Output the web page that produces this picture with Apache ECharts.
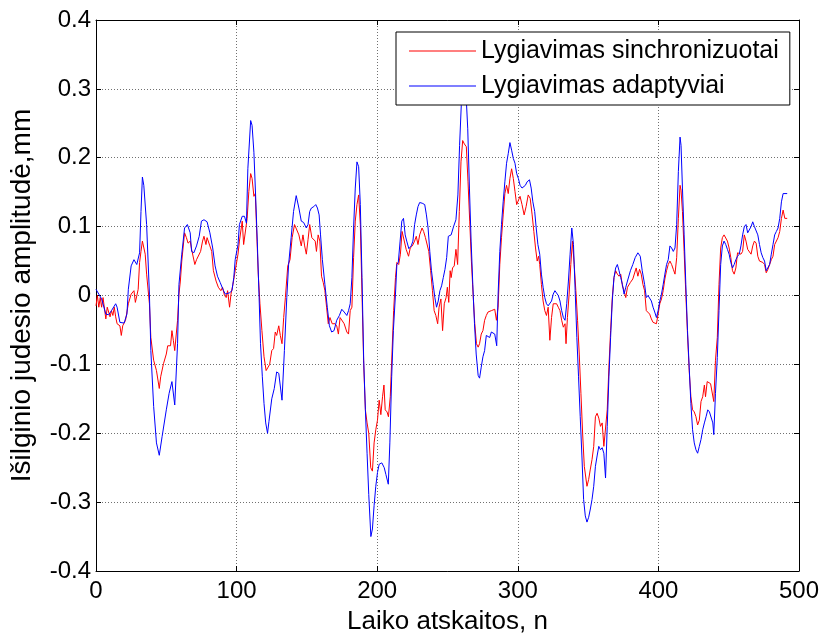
<!DOCTYPE html>
<html>
<head>
<meta charset="utf-8">
<script src="https://cdn.jsdelivr.net/npm/echarts@6/dist/echarts.min.js"></script>
<style>html,body{margin:0;padding:0;background:#fff}#c{width:824px;height:640px}</style>
</head>
<body>
<div id="c"></div>
<script>
var xTicks = [0, 100, 200, 300, 400, 500];
var yTicks = [-0.4, -0.3, -0.2, -0.1, 0, 0.1, 0.2, 0.3, 0.4];
var seriesNames = ['Lygiavimas sinchronizuotai', 'Lygiavimas adaptyviai'];

// [sample n, amplitude mm] — red (synchronised)
var syncData = [
[0,-0.015],[1,0],[2,-0.017],[3,-0.003],[4,-0.017],[5,-0.003],[7,-0.034],[8,-0.017],[10,-0.031],[11,-0.022],[12,-0.029],[13,-0.017],[14,-0.031],[15,-0.041],[17,-0.044],[18,-0.058],[19,-0.044],[21,-0.036],[23,-0.012],[25,0.002],[27,0.007],[28,-0.010],[30,0.009],[31,0.048],[32,0.064],[33,0.079],[35,0.060],[36,0.031],[38,-0.012],[39,-0.061],[41,-0.094],[43,-0.109],[45,-0.135],[46,-0.118],[48,-0.099],[50,-0.085],[51,-0.073],[53,-0.073],[54,-0.051],[55,-0.065],[56,-0.080],[58,-0.036],[59,0.002],
[60,0.021],[61,0.050],[63,0.091],[64.3,0.084],[65.5,0.076],[67,0.079],[68,0.067],[69,0.069],[70.3,0.045],[71.5,0.052],[72.7,0.050],[74.4,0.064],[75.8,0.079],[76.8,0.086],[78.2,0.074],[79,0.084],[81,0.072],[82.3,0.064],[83.5,0.036],[85.4,0.021],[87,0.012],[88.8,0.007],[90,0.012],[91.4,0.000],[92.6,-0.003],[93.6,0.007],[95,-0.017],[96,0.002],[97.4,0.016],[99,0.036],[101,0.060],[102,0.079],[104,0.108],[105,0.074],[106.3,0.072],[107.5,0.112],[108.7,0.151],[110,0.177],[111,0.170],[112.3,0.144],[113.3,0.148],[114.2,0.098],[115.4,0.031],[116.6,-0.012],[118,-0.051],[119.5,-0.089],[121,-0.109],[122.4,-0.104],
[123.5,-0.100],[125,-0.080],[126.3,-0.077],[127.5,-0.053],[128.5,-0.058],[130,-0.044],[131.1,-0.058],[132.3,-0.070],[133.5,-0.032],[134.7,-0.003],[136.4,0.043],[138,0.052],[139.5,0.084],[141.2,0.103],[142.4,0.105],[144.3,0.088],[146,0.072],[147.2,0.088],[148.4,0.072],[149.6,0.060],[150.8,0.081],[152,0.103],[153.5,0.084],[154.9,0.082],[155.9,0.079],[156.8,0.064],[158,0.088],[159.2,0.079],[160.4,0.028],[161.6,0.019],[162.8,0.007],[164,-0.017],[165.2,-0.041],[166.4,-0.032],[168,-0.041],[170,-0.041],[171.2,-0.044],[172.4,-0.056],[173.6,-0.032],[174.8,-0.034],[176.5,-0.041],[178.4,-0.053],[179.6,-0.056],[180.8,-0.022],[182,-0.017],[183.2,0.055],[184.4,0.108],[185.6,0.132],[186.8,0.146],[188,0.103],[189.2,0.002],[190.4,-0.099],[191.6,-0.166],[192.8,-0.185],[194,-0.200],
[195.4,-0.250],[196.6,-0.255],[197.8,-0.214],[199,-0.195],[200.2,-0.181],[201.4,-0.152],[202.6,-0.173],[203.8,-0.147],[204.8,-0.130],[205.7,-0.166],[207,-0.169],[208,-0.176],[209.3,-0.147],[210.5,-0.085],[211.7,-0.022],[213,0.026],[214,0.048],[215.3,0.045],[216.5,0.060],[217.7,0.093],[219,0.093],[220.6,0.067],[222.3,0.057],[223.5,0.069],[225,0.072],[226.6,0.079],[227.8,0.086],[229,0.074],[230.2,0.088],[231.9,0.098],[233,0.093],[234.3,0.084],[235.5,0.086],[236.7,0.064],[238,0.036],[239.3,0.007],[240.5,-0.022],[241.7,-0.029],[243,-0.041],[244,-0.017],[245.3,-0.005],[246.5,-0.051],[247.7,-0.012],[249,-0.003],[249.9,0.012],[250.9,-0.010],
[251.9,0.036],[252.6,0.026],[253.6,0.040],[254.8,0.043],[256,0.067],[257.2,0.045],[258.4,0.122],[259.6,0.194],[260.8,0.225],[262,0.220],[263.4,0.216],[264.6,0.165],[265.8,0.108],[267,0.050],[268.2,0.002],[269.4,-0.041],[270.6,-0.070],[271.8,-0.075],[272.8,-0.070],[274,-0.056],[275.2,-0.051],[276.4,-0.036],[277.6,-0.029],[278.8,-0.024],[280,-0.024],[281.2,-0.022],[282.4,-0.020],[283.6,-0.020],[284.8,-0.036],[286,-0.017],[287.2,0.045],[288.4,0.084],[289.6,0.117],[290.8,0.148],[292,0.160],[293.2,0.148],[294.4,0.170],[295.6,0.184],[296.8,0.170],[298,0.151],[299.2,0.132],[300.4,0.134],[301.6,0.144],[303,0.132],[304.5,0.117],[305.9,0.129],[307.4,0.146],[308.8,0.141],[310.2,0.117],[311.4,0.093],[312.6,0.069],[313.8,0.050],
[314.8,0.057],[315.6,0.045],[316.8,0.016],[318,-0.008],[319.2,-0.022],[320.4,-0.029],[321.6,-0.017],[322.8,-0.065],[324,-0.032],[325.2,-0.012],[326.4,-0.010],[327.6,-0.012],[328.8,-0.017],[330,-0.022],[331.2,-0.036],[332.4,-0.046],[333.6,-0.041],[334.3,-0.070],[335.3,-0.032],[336.5,0.002],[337.7,0.045],[338.9,0.079],[340.1,0.045],[341.3,0.007],[342.5,-0.036],[343.7,-0.085],[344.9,-0.142],[346.1,-0.200],[347.3,-0.248],[348,-0.250],[349.2,-0.277],[350.4,-0.267],[351.6,-0.252],[352.8,-0.238],[354,-0.219],[355.2,-0.176],[356.4,-0.171],[357.6,-0.178],[358.8,-0.190],[360,-0.185],[361.2,-0.219],[362.4,-0.221],[363.6,-0.166],[364.8,-0.104],[366,-0.051],[367.2,-0.003],[368.4,0.026],[369.6,0.036],[370.8,0.031],[372,0.028],[373.2,0.031],[374.4,0.014],[375.6,0.007],[376.8,-0.003],[378,0.012],
[380.1,0.019],[381.8,0.024],[383,0.026],[384.2,0.040],[385.4,0.028],[386.6,0.038],[387.8,0.031],[389,0.016],[390.2,0.007],[391.4,-0.022],[392.6,-0.024],[393.8,-0.027],[395,-0.034],[396.2,-0.039],[397.4,-0.041],[398.6,-0.041],[399.8,-0.027],[401,-0.012],[402.2,-0.005],[403.4,0.007],[404.6,0.024],[405.8,0.036],[407,0.045],[408.2,0.050],[409.4,0.045],[410.6,0.038],[411.8,0.031],[413,0.055],[414.2,0.112],[415.4,0.160],[416.1,0.153],[417.1,0.122],[418.3,0.064],[419.5,0.002],[420.7,-0.056],[421.9,-0.109],[423.1,-0.147],[424.3,-0.166],[425.5,-0.169],[426.7,-0.176],[427.9,-0.188],[429.1,-0.181],[430.3,-0.154],[431.5,-0.147],[432.7,-0.130],[433.5,-0.147],[434.7,-0.125],[435.9,-0.125],[437.1,-0.128],[438.3,-0.128],[439.4,-0.154],[440.6,-0.094],
[441.9,-0.061],[443.1,0.016],[444.3,0.069],[445.5,0.084],[446.7,0.088],[447.9,0.086],[449.1,0.079],[450.3,0.069],[451.5,0.055],[452.7,0.036],[453.9,0.031],[455.1,0.040],[456.3,0.062],[457.5,0.060],[458.7,0.060],[459.9,0.064],[461.1,0.088],[462.3,0.079],[463.5,0.067],[464.7,0.069],[465.9,0.060],[467.1,0.072],[468.3,0.079],[469.5,0.076],[470.7,0.057],[471.9,0.050],[473.1,0.048],[474.3,0.048],[475.5,0.045],[476.7,0.033],[477.9,0.038],[479.1,0.045],[480.3,0.052],[481.5,0.057],[482.7,0.074],[483.9,0.076],[485.1,0.084],[486.3,0.093],[487.5,0.112],[488.7,0.124],[489.9,0.112],[491.6,0.112]
];

// [sample n, amplitude mm] — blue (adaptive)
var adaptData = [
[0,0.009],[2,0.002],[4,-0.005],[7,-0.027],[9,-0.028],[11,-0.022],[14,-0.012],[15,-0.017],[17,-0.039],[20,-0.040],[22,-0.027],[23,0.009],[25,0.043],[27,0.052],[29,0.045],[31,0.062],[32,0.122],[33,0.172],[34,0.160],[36,0.103],[38,0.002],[39,-0.080],[41,-0.161],[43,-0.214],[45,-0.232],[47,-0.205],[50,-0.166],[52,-0.142],[54,-0.125],[56,-0.159],[58,-0.070],[59,0.016],
[61,0.060],[63,0.098],[65,0.103],[67,0.091],[68,0.064],[69.6,0.062],[71.5,0.072],[73.4,0.086],[75,0.108],[76.8,0.110],[79,0.107],[81,0.091],[83,0.069],[84.7,0.043],[86.4,0.028],[88.3,0.019],[89.5,0.017],[90.7,0.007],[92,0.002],[93,0.002],[95,0.004],[96.7,0.007],[98,0.026],[99,0.052],[101,0.074],[102,0.103],[104,0.115],[105.6,0.115],[107,0.105],[108,0.184],[110,0.254],[111,0.247],[112.3,0.208],[113.5,0.146],[114.7,0.079],[116,-0.003],[117,-0.070],[118.3,-0.118],[119.5,-0.157],[120.7,-0.185],[122,-0.200],
[123,-0.183],[125,-0.150],[126.8,-0.135],[128.5,-0.111],[130,-0.113],[132.3,-0.152],[134,-0.080],[135.7,-0.003],[137,0.045],[138.8,0.084],[140.5,0.122],[142.4,0.145],[144.3,0.127],[146,0.108],[147.7,0.106],[149.6,0.098],[150.8,0.103],[152,0.122],[153.2,0.127],[154.9,0.129],[156.3,0.132],[157.5,0.127],[158.7,0.117],[159.7,0.088],[161,0.052],[162.8,0.016],[164.5,-0.017],[166,-0.044],[167.6,-0.053],[169.3,-0.051],[171.2,-0.036],[173.1,-0.029],[174.8,-0.020],[176.5,-0.024],[178.4,-0.029],[179.6,-0.022],[180.8,-0.012],[182,0.026],[183.2,0.098],[184.4,0.156],[185.6,0.194],[186.8,0.187],[188,0.132],[189.2,0.026],[190.4,-0.094],[191.6,-0.166],[192.8,-0.229],[194,-0.289],[195.5,-0.350],
[196.6,-0.339],[197.8,-0.305],[199,-0.277],[200.2,-0.257],[201.4,-0.245],[203.3,-0.243],[205,-0.250],[206.2,-0.260],[207.9,-0.274],[209,-0.214],[210.3,-0.118],[211.5,-0.051],[213,0.002],[214,0.045],[215,0.048],[216.3,0.079],[217.5,0.108],[218.7,0.112],[219.9,0.088],[221,0.079],[222.5,0.068],[224.2,0.072],[225.4,0.079],[226.6,0.103],[227.8,0.117],[229,0.129],[230.2,0.135],[232,0.134],[233.8,0.132],[235,0.117],[236.2,0.098],[237.4,0.064],[238.6,0.036],[239.8,0.016],[241,-0.003],[242.2,-0.017],[243.4,-0.008],[244.6,0.007],[245.8,0.014],[247,0.026],[248.2,0.038],[249.4,0.055],[250.6,0.086],
[252.6,0.088],[254.3,0.100],[256,0.110],[257.4,0.146],[258.6,0.218],[259.8,0.276],[261,0.310],[262,0.320],[263,0.300],[264.4,0.242],[265.6,0.156],[266.8,0.079],[268,0.016],[269.2,-0.041],[270.4,-0.085],[271.8,-0.116],[272.8,-0.120],[274,-0.104],[275.2,-0.089],[276.4,-0.080],[277.6,-0.058],[278.8,-0.056],[280,-0.061],[281.2,-0.053],[282.4,-0.051],[283.6,-0.056],[285,-0.073],[286,0.002],[287.2,0.064],[288.4,0.103],[289.6,0.136],[290.8,0.165],[292,0.192],[293.2,0.206],[294.4,0.222],[295.6,0.211],[296.8,0.199],[298,0.192],[299.2,0.177],[300.4,0.170],[301.6,0.160],[303,0.156],[304.2,0.156],[305.4,0.160],[306.6,0.165],[308.3,0.168],[309.5,0.156],[310.7,0.136],[312,0.122],[313.1,0.098],[314.3,0.074],
[315.6,0.060],[316.8,0.031],[318,0.012],[319.2,-0.003],[320.4,-0.012],[321.6,-0.015],[322.8,-0.017],[324,-0.008],[325.2,0.002],[326.4,0.007],[327.6,0.007],[328.8,0.000],[330,-0.008],[331.2,-0.022],[332.4,-0.032],[333.6,-0.036],[334.8,-0.012],[336,0.021],[337.2,0.060],[338.4,0.098],[339.6,0.074],[340.8,0.007],[342,-0.061],[343.2,-0.118],[344.4,-0.176],[345.6,-0.233],[346.8,-0.296],[348,-0.320],[349.2,-0.329],[350.4,-0.322],[351.6,-0.310],[352.8,-0.296],[354,-0.277],[355.2,-0.248],[356.4,-0.233],[357.6,-0.219],[358.8,-0.224],[360,-0.221],[361.2,-0.229],[362.4,-0.265],[363.6,-0.190],[364.8,-0.118],[366,-0.061],[367.2,-0.008],[368.4,0.026],[369.6,0.040],[370.8,0.045],[372,0.036],[373.2,0.026],[374.4,0.016],[375.6,0.002],[376.8,0.012],[378,0.021],
[380.1,0.036],[381.8,0.045],[383.5,0.055],[385.4,0.062],[387.1,0.057],[388.5,0.036],[390.2,0.016],[391.4,-0.003],[392.6,0.000],[393.8,0.000],[395,-0.008],[396.2,-0.017],[397.4,-0.024],[398.6,-0.032],[399.8,-0.022],[401,-0.008],[402.2,0.002],[403.4,0.016],[404.6,0.031],[405.8,0.045],[407,0.052],[408.2,0.072],[409.4,0.069],[410.6,0.064],[411.8,0.069],[413,0.103],[414.2,0.180],[415.4,0.230],[416.1,0.218],[417.1,0.156],[418.3,0.088],[419.5,0.016],[420.7,-0.051],[421.9,-0.104],[423.1,-0.157],[424.3,-0.195],[425.5,-0.214],[426.7,-0.224],[427.9,-0.229],[429.1,-0.219],[430.3,-0.209],[431.5,-0.195],[432.7,-0.185],[433.9,-0.176],[435.1,-0.166],[436.3,-0.169],[437.5,-0.171],[438.7,-0.185],[439.4,-0.202],[440.6,-0.142],
[441.9,-0.090],[443.1,-0.022],[444.3,0.045],[445.5,0.072],[446.7,0.079],[447.9,0.074],[449.1,0.067],[450.3,0.060],[451.5,0.048],[452.7,0.040],[453.9,0.045],[455.1,0.052],[456.3,0.057],[457.5,0.060],[458.7,0.072],[459.9,0.088],[461.1,0.100],[462.3,0.103],[463.5,0.091],[464.7,0.091],[465.9,0.100],[467.1,0.107],[468.3,0.100],[469.5,0.100],[470.7,0.088],[471.9,0.074],[473.1,0.062],[474.3,0.055],[475.5,0.050],[476.7,0.036],[477.9,0.038],[479.1,0.045],[480.3,0.060],[481.5,0.074],[482.7,0.088],[483.9,0.093],[485.1,0.098],[486.3,0.112],[487.5,0.136],[488.7,0.148],[489.9,0.148],[491.6,0.148]
];

var FONT = 'Liberation Sans, Arial, sans-serif';
var chart = echarts.init(document.getElementById('c'), null, {renderer: 'canvas'});
var gridLine = {show: true, lineStyle: {color: '#707070', width: 1, type: [1, 2]}};
var tickIn = {show: true, inside: true, length: 5, lineStyle: {color: '#000', width: 1}};
var axLine = {show: true, onZero: false, lineStyle: {color: '#000', width: 1}};

chart.setOption({
  animation: false,
  backgroundColor: '#fff',
  grid: {left: 96, right: 25, top: 20, bottom: 65, containLabel: false},
  legend: {
    orient: 'vertical', left: 396, top: 32,
    data: seriesNames.map(function (n) { return {name: n, icon: 'rect'}; }),
    backgroundColor: '#fff', borderColor: '#000', borderWidth: 1,
    padding: [6, 11, 6, 13], itemGap: 9,
    itemWidth: 67, itemHeight: 1,
    textStyle: {fontFamily: FONT, fontSize: 25, color: '#000', lineHeight: 26},
    z: 10
  },
  xAxis: [{
    type: 'value', min: xTicks[0], max: xTicks[xTicks.length - 1], interval: 100,
    position: 'bottom',
    axisLine: axLine, axisTick: tickIn, splitLine: gridLine,
    axisLabel: {fontFamily: FONT, fontSize: 24, color: '#000', margin: 8},
    name: 'Laiko atskaitos, n', nameLocation: 'middle', nameGap: 38,
    nameTextStyle: {fontFamily: FONT, fontSize: 26, color: '#000'}
  }, {
    type: 'value', min: xTicks[0], max: xTicks[xTicks.length - 1], interval: 100,
    position: 'top',
    axisLine: axLine, axisTick: tickIn, splitLine: {show: false}, axisLabel: {show: false}
  }],
  yAxis: [{
    type: 'value', min: yTicks[0], max: yTicks[yTicks.length - 1], interval: 0.1,
    position: 'left',
    axisLine: axLine, axisTick: tickIn, splitLine: gridLine,
    axisLabel: {fontFamily: FONT, fontSize: 24, color: '#000', margin: 5,
      formatter: function (v) { return String(+v.toFixed(1)); }},
    name: 'Išilginio judesio amplitudė,mm', nameLocation: 'middle', nameGap: 60,
    nameTextStyle: {fontFamily: FONT, fontSize: 28, color: '#000'}
  }, {
    type: 'value', min: yTicks[0], max: yTicks[yTicks.length - 1], interval: 0.1,
    position: 'right',
    axisLine: axLine, axisTick: tickIn, splitLine: {show: false}, axisLabel: {show: false}
  }],
  series: [{
    name: seriesNames[0], type: 'line', data: syncData, symbol: 'none',
    lineStyle: {color: '#ff0000', width: 1}, itemStyle: {color: '#ff0000'}, z: 2
  }, {
    name: seriesNames[1], type: 'line', data: adaptData, symbol: 'none',
    lineStyle: {color: '#0000ff', width: 1}, itemStyle: {color: '#0000ff'}, z: 3
  }]
});
</script>
</body>
</html>
